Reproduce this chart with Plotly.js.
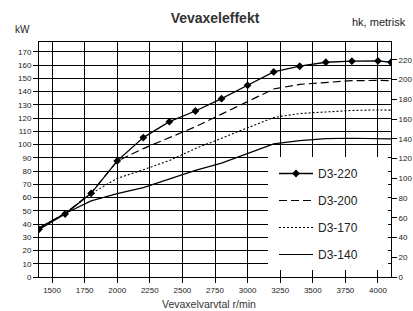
<!DOCTYPE html>
<html>
<head>
<meta charset="utf-8">
<script src="https://cdn.plot.ly/plotly-3.0.1.min.js"></script>
<style>
html,body{margin:0;padding:0;background:#fff;}
#chart{width:413px;height:311px;}
</style>
</head>
<body>
<div id="chart"></div>
<script>
// Data (kW vs crankshaft speed)
const rpm    = [1400, 1600, 1800, 2000, 2200, 2400, 2600, 2800, 3000, 3200, 3400, 3600, 3800, 4000, 4100];
const d3_220 = [36, 47.6, 63.2, 87.7, 105.3, 117.3, 125.4, 134.7, 144.8, 154.9, 159.2, 162.2, 163, 163.2, 162.2];
const d3_200 = [37, 48, 63.5, 87.5, 97, 105, 113.5, 123, 132.5, 142, 145.5, 147, 148.3, 148.5, 148.2];
const d3_170 = [37, 48, 63, 74.5, 81, 88, 97, 105, 113, 120.5, 123.5, 124.8, 125.8, 126.2, 126];
const d3_140 = [37, 48, 57.5, 63, 67.5, 74, 80.5, 86, 93.5, 100.5, 103, 104.5, 104.8, 104.7, 104.3];
const seriesNames = ['D3-220', 'D3-200', 'D3-170', 'D3-140'];
const xTicks = [1500, 1750, 2000, 2250, 2500, 2750, 3000, 3250, 3500, 3750, 4000];
const kwTicks = [0, 10, 20, 30, 40, 50, 60, 70, 80, 90, 100, 110, 120, 130, 140, 150, 160, 170];
const hpTicks = [0, 20, 40, 60, 80, 100, 120, 140, 160, 180, 200, 220];

const FONT = 'Liberation Sans, Arial, sans-serif';
const TXT = '#222';

const W = 413, H = 311;
const M = {l: 39, r: 22, t: 42, b: 34};
const PW = W - M.l - M.r, PH = H - M.t - M.b;
const px2x = px => (px - M.l) / PW;
const py2y = py => (H - M.b - py) / PH;

const traces = [
  {x: rpm, y: d3_220, name: seriesNames[0], legendgroup: 'a', mode: 'lines+markers',
   line: {color: '#000', width: 1.3}, marker: {symbol: 'diamond', size: 6, color: '#000'}},
  {x: rpm, y: d3_200, name: seriesNames[1], legendgroup: 'b', mode: 'lines',
   line: {color: '#000', width: 1.2, dash: '8px,4px'}},
  {x: rpm, y: d3_170, name: seriesNames[2], legendgroup: 'c', mode: 'lines',
   line: {color: '#000', width: 1.1, dash: '2px,2px'}},
  {x: rpm, y: d3_140, name: seriesNames[3], legendgroup: 'd', mode: 'lines',
   line: {color: '#000', width: 1.2}},
  // empty trace that activates the right-hand hp axis
  {x: [null], y: [null], yaxis: 'y2', mode: 'lines', showlegend: false, hoverinfo: 'skip'}
];

const layout = {
  width: W, height: H,
  margin: M,
  paper_bgcolor: '#fff', plot_bgcolor: '#fff',
  font: {family: FONT, color: TXT, size: 8},
  showlegend: true,
  title: {text: 'Vevaxeleffekt', font: {family: FONT, size: 14, weight: 'bold', color: '#333'},
          x: 0.5, xref: 'paper', y: (H - 18) / H, yref: 'container', yanchor: 'middle', xanchor: 'center'},
  xaxis: {
    range: [1400, 4100], tickvals: xTicks, ticktext: xTicks.map(String),
    ticks: 'outside', ticklen: 5, tickcolor: '#000', tickwidth: 1,
    showgrid: true, gridcolor: '#000', gridwidth: 1,
    showline: true, linecolor: '#000', linewidth: 1, mirror: true,
    zeroline: false, tickfont: {size: 8, color: TXT}
  },
  yaxis: {
    range: [0, 177.5], tickvals: kwTicks, ticktext: kwTicks.map(String),
    ticks: 'outside', ticklen: 5, tickcolor: '#000', tickwidth: 1,
    showgrid: true, gridcolor: '#000', gridwidth: 1,
    showline: true, linecolor: '#000', linewidth: 1,
    zeroline: false, tickfont: {size: 8, color: TXT}
  },
  yaxis2: {
    overlaying: 'y', side: 'right', anchor: 'x',
    range: [0, 238], tickvals: hpTicks, ticktext: hpTicks.map(String),
    ticks: 'outside', ticklen: 5, tickcolor: '#000', tickwidth: 1,
    showgrid: false, showline: true, linecolor: '#000', linewidth: 1,
    zeroline: false, tickfont: {size: 8, color: TXT}
  },
  legend: {
    x: px2x(274), xanchor: 'left', y: py2y(159), yanchor: 'top',
    bgcolor: 'rgba(0,0,0,0)', borderwidth: 0,
    font: {family: FONT, size: 12, color: TXT},
    itemwidth: 34, traceorder: 'grouped', tracegroupgap: 8
  },
  shapes: [
    {type: 'rect', xref: 'paper', yref: 'paper', layer: 'above',
     x0: px2x(268), x1: px2x(388), y0: py2y(270), y1: py2y(157),
     fillcolor: '#fff', line: {width: 0}}
  ],
  annotations: [
    {text: 'kW', xref: 'paper', yref: 'paper', x: px2x(22.5), y: py2y(29.5),
     xanchor: 'center', yanchor: 'middle', showarrow: false, font: {size: 10, color: TXT}},
    {text: 'hk, metrisk', xref: 'paper', yref: 'paper', x: px2x(408), y: py2y(22),
     xanchor: 'right', yanchor: 'middle', showarrow: false, font: {size: 11, color: TXT}},
    {text: 'Vevaxelvarvtal r/min', xref: 'paper', yref: 'paper', x: px2x(209), y: py2y(304),
     xanchor: 'center', yanchor: 'middle', showarrow: false, font: {size: 10.5, color: '#333'}}
  ]
};

Plotly.newPlot('chart', traces, layout, {staticPlot: true, displayModeBar: false});
</script>
</body>
</html>
